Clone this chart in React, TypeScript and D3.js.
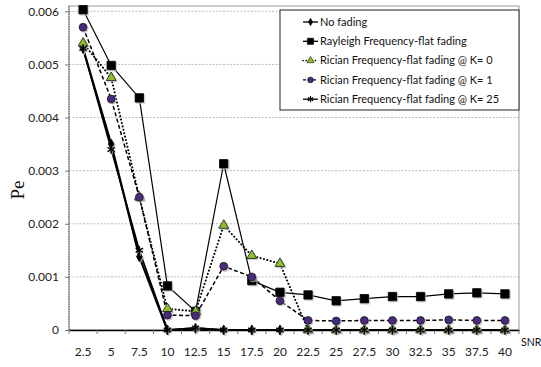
import React, { useRef, useEffect } from "react";
import * as d3 from "d3";

const snr = ["2.5", "5", "7.5", "10", "12.5", "15", "17.5", "20", "22.5", "25", "27.5", "30", "32.5", "35", "37.5", "40"];
const noFading = [0.0053, 0.0035, 0.00138, 0, 0.00003, 0, 0, 0, 0, 0, 0, 0, 0, 0, 0, 0];
const rayleigh = [0.00603, 0.00498, 0.00437, 0.00083, 0.00035, 0.00313, 0.00093, 0.00071, 0.00066, 0.00055, 0.00059, 0.00063, 0.00063, 0.00068, 0.0007, 0.00068];
const ricianK0 = [0.0054, 0.00475, 0.0025, 0.0004, 0.00035, 0.00197, 0.0014, 0.00125, 0, 0, 0, 0, 0, 0, 0, 0];
const ricianK1 = [0.0057, 0.00435, 0.0025, 0.00028, 0.00027, 0.0012, 0.001, 0.00055, 0.00018, 0.00017, 0.00018, 0.00018, 0.00018, 0.00019, 0.00018, 0.00018];
const ricianK25 = [0.0053, 0.0034, 0.0015, 0, 0.00004, 0, 0, 0, 0, 0, 0, 0, 0, 0, 0, 0];
const yTicks = [0, 0.001, 0.002, 0.003, 0.004, 0.005, 0.006];

const series = [
  { name: "No fading", values: noFading, symbol: d3.symbolDiamond, size: 28, fill: "#000", stroke: "#000", width: 2.2, dash: null, dotted: false },
  { name: "Rayleigh Frequency-flat fading", values: rayleigh, symbol: d3.symbolSquare, size: 70, fill: "#000", stroke: "#000", width: 1.2, dash: null, dotted: false },
  { name: "Rician Frequency-flat fading @ K= 0", values: ricianK0, symbol: d3.symbolTriangle, size: 42, fill: "#8fbf2a", stroke: "#1a1a1a", width: 2, dash: "0.1,3.4", dotted: true },
  { name: "Rician Frequency-flat fading @ K= 1", values: ricianK1, symbol: d3.symbolCircle, size: 48, fill: "#4a2a80", stroke: "#1a1a1a", width: 1.5, dash: "4,2.5", dotted: false },
  { name: "Rician Frequency-flat fading @ K= 25", values: ricianK25, symbol: d3.symbolAsterisk, size: 50, fill: "none", stroke: "#000", width: 1.6, dash: null, dotted: false },
];

const FONT = "Lato, 'Open Sans', sans-serif";

export default function App() {
  const svgRef = useRef<SVGSVGElement>(null);

  useEffect(() => {
    const svg = d3.select(svgRef.current);
    svg.selectAll("*").remove();

    const margin = { top: 6, left: 69, right: 22, bottom: 37 };
    const W = 541, H = 367;
    const width = W - margin.left - margin.right;
    const height = H - margin.top - margin.bottom;

    const x = d3.scaleBand().domain(snr).range([0, width]);
    const y = d3.scaleLinear().domain([0, 0.0061]).range([height, 0]);
    const cx = (i: number) => x(snr[i])! + x.bandwidth() / 2;

    const g = svg.append("g").attr("transform", `translate(${margin.left},${margin.top})`);

    // grid
    g.selectAll("line.grid")
      .data(yTicks.slice(1))
      .join("line")
      .attr("x1", 0).attr("x2", width)
      .attr("y1", d => y(d)).attr("y2", d => y(d))
      .attr("stroke", "#aaa").attr("stroke-width", 0.8).attr("stroke-dasharray", "2,1.5");

    // frame
    g.append("rect").attr("width", width).attr("height", height)
      .attr("fill", "none").attr("stroke", "#999").attr("stroke-width", 1);
    g.append("line").attr("x1", 0).attr("x2", 0).attr("y1", 0).attr("y2", height)
      .attr("stroke", "#555").attr("stroke-dasharray", "1.5,1");

    // y axis
    const yAxis = g.append("g").call(d3.axisLeft(y).tickValues(yTicks).tickFormat(d => (+d === 0 ? "0" : d3.format(".3f")(+d))).tickSize(4));
    yAxis.select(".domain").remove();
    yAxis.selectAll("line").attr("stroke", "#777");
    yAxis.selectAll("text").attr("font-family", FONT).attr("font-size", 12).attr("fill", "#222").attr("dx", "-3");

    // x axis
    const xAxis = g.append("g").attr("transform", `translate(0,${height})`)
      .call(d3.axisBottom(x).tickSize(0).tickPadding(17));
    xAxis.select(".domain").attr("stroke", "#000").attr("stroke-width", 1.5);
    xAxis.selectAll("text").attr("font-family", FONT).attr("font-size", 12).attr("fill", "#222");
    g.append("g").selectAll("line")
      .data(d3.range(snr.length + 1))
      .join("line")
      .attr("x1", i => i * x.bandwidth()).attr("x2", i => i * x.bandwidth())
      .attr("y1", height).attr("y2", height + 4)
      .attr("stroke", "#777");

    const line = d3.line<number>().x((_, i) => cx(i)).y(d => y(d));

    series.forEach(s => {
      g.append("path").datum(s.values).attr("d", line)
        .attr("fill", "none").attr("stroke", "#000").attr("stroke-width", s.width)
        .attr("stroke-dasharray", s.dash).attr("stroke-linecap", s.dotted ? "round" : "butt");
    });
    series.forEach(s => {
      const sym = d3.symbol().type(s.symbol).size(s.size);
      const pts = g.append("g");
      pts.selectAll("path.shadow").data(s.values).join("path")
        .attr("transform", (d, i) => `translate(${cx(i) + 1.2},${y(d) + 1.2})`)
        .attr("d", sym)
        .attr("fill", s.fill === "none" ? "none" : "#bbb").attr("stroke", "#bbb").attr("stroke-width", 1).attr("opacity", 0.7);
      pts.selectAll("path.mark").data(s.values).join("path")
        .attr("transform", (d, i) => `translate(${cx(i)},${y(d)})`)
        .attr("d", sym)
        .attr("fill", s.fill).attr("stroke", s.stroke).attr("stroke-width", s.fill === "none" ? 1.4 : 0.8);
    });

    // legend
    const lg = svg.append("g").attr("transform", "translate(280,10)");
    lg.append("rect").attr("width", 239).attr("height", 100).attr("fill", "#fff").attr("stroke", "#222").attr("stroke-width", 1);
    series.forEach((s, i) => {
      const yy = 12 + i * 19.3;
      const row = lg.append("g").attr("transform", `translate(0,${yy})`);
      row.append("line").attr("x1", 23).attr("x2", 38).attr("y1", 0).attr("y2", 0)
        .attr("stroke", "#000").attr("stroke-width", s.dotted ? 1.6 : 1.3)
        .attr("stroke-linecap", s.dotted ? "round" : "butt")
        .attr("stroke-dasharray", s.dotted ? "0.1,3" : s.dash ? "3,2" : null);
      row.append("path").attr("transform", "translate(30.5,0)")
        .attr("d", d3.symbol().type(s.symbol).size(s.size * 0.55))
        .attr("fill", s.fill).attr("stroke", s.stroke).attr("stroke-width", s.fill === "none" ? 1.2 : 0.6);
      row.append("text").attr("x", 40).attr("y", 0).attr("dy", "0.35em")
        .attr("font-family", FONT).attr("font-size", 11).attr("fill", "#111").text(s.name);
    });

    // axis titles
    svg.append("text").attr("transform", "translate(24,190) rotate(-90)")
      .attr("text-anchor", "middle").attr("font-family", "'Liberation Serif', 'DejaVu Serif', serif")
      .attr("font-size", 19).attr("fill", "#111").text("Pe");
    svg.append("text").attr("x", 521).attr("y", 346)
      .attr("font-family", FONT).attr("font-size", 10.5).attr("fill", "#111").text("SNR");
  }, []);

  return (
    <div style={{ position: "absolute", left: 0, top: 0 }}>
      <svg ref={svgRef} width={541} height={367} style={{ display: "block", background: "#fff" }} />
    </div>
  );
}
